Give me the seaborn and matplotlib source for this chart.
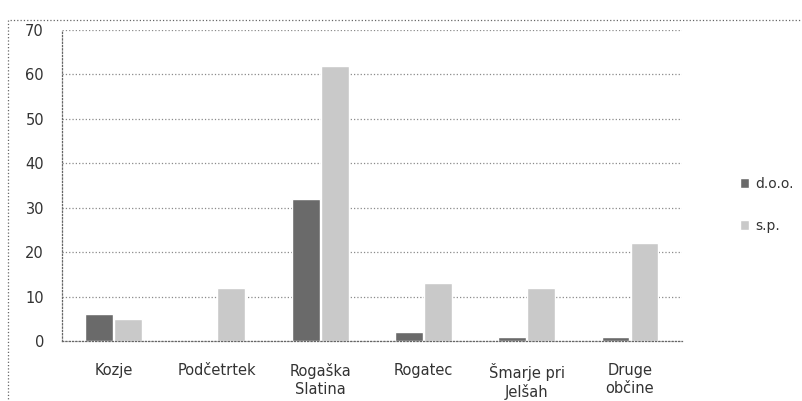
import pandas as pd
import matplotlib.pyplot as plt
import matplotlib.patches as mpatches
import seaborn as sns

# --- podatki ---
obcine = ['Kozje', 'Podčetrtek', 'Rogaška\nSlatina', 'Rogatec', 'Šmarje pri\nJelšah', 'Druge\nobčine']
doo = [6, 0, 32, 2, 1, 1]
sp = [5, 12, 62, 13, 12, 22]

df = pd.DataFrame({
    'obcina': obcine * 2,
    'oblika': ['d.o.o.'] * len(obcine) + ['s.p.'] * len(obcine),
    'stevilo': doo + sp,
})

sns.set_style('white')
plt.rcParams['font.family'] = ['DejaVu Sans']

fig = plt.figure(figsize=(8.02, 4.01), dpi=100)
ax = fig.add_axes([0.0773, 0.1496, 0.7727, 0.7754])

sns.barplot(data=df, x='obcina', y='stevilo', hue='oblika',
            palette={'d.o.o.': '#6a6a6a', 's.p.': '#c9c9c9'},
            width=0.56, gap=0.04, ax=ax, legend=True)

ax.set_ylim(0, 70)
ax.set_yticks(range(0, 71, 10))
ax.set_xlim(-0.5, len(obcine) - 0.5)
ax.set_xlabel('')
ax.set_ylabel('')
ax.yaxis.grid(True, linestyle=':', color='#8a8a8a', linewidth=0.9)
ax.set_axisbelow(True)
ax.tick_params(axis='both', labelsize=10.5, colors='#333333', length=0)
ax.tick_params(axis='y', pad=13)
ax.tick_params(axis='x', pad=16)
for lbl in ax.get_xticklabels():
    lbl.set_linespacing(1.2)

for s in ['top', 'right']:
    ax.spines[s].set_visible(False)
for s in ['left', 'bottom']:
    ax.spines[s].set_linestyle(':')
    ax.spines[s].set_color('#666666')
    ax.spines[s].set_linewidth(0.9)

leg = ax.legend(loc='center left', bbox_to_anchor=(0.91, 0.489),
                bbox_transform=fig.transFigure, frameon=False,
                fontsize=10, handlelength=0.7, handleheight=0.7,
                handletextpad=0.4, labelspacing=2.0, borderpad=0.2)
for t in leg.get_texts():
    t.set_color('#333333')

# okvir grafa
fig.patches.append(mpatches.Rectangle((0.010, -0.02), 1.2, 0.97, transform=fig.transFigure,
                                      fill=False, linestyle=':', edgecolor='#666666',
                                      linewidth=0.9))

fig.savefig('out.png', dpi=100)
